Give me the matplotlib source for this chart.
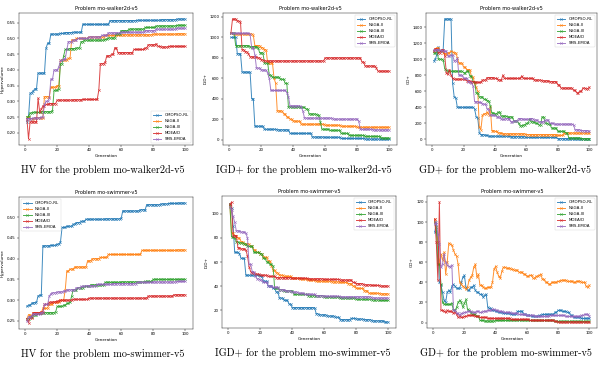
import numpy as np
import matplotlib
matplotlib.use("Agg")
import matplotlib.pyplot as plt
from matplotlib.ticker import MultipleLocator

N_GEN = 100
ALGOS = ["OMOPSO-RL", "NSGA-II", "NSGA-III", "MOEA/D", "SMS-EMOA"]
COLORS = ["#1f77b4", "#ff7f0e", "#2ca02c", "#d62728", "#9467bd"]

# (generation, value) change points; value holds until the next listed generation

# ── HV, mo-walker2d-v5 ─────────────────────────────
hv_walker_omopso = [(1, .235), (2, .25), (3, .325), (4, .328), (5, .333), (6, .34), (8, .39),
                    (13, .47), (14, .485), (16, .514), (22, .516), (25, .519), (30, .52),
                    (36, .545), (53, .557), (70, .558), (85, .56), (95, .562)]
hv_walker_nsga2 = [(1, .25), (3, .245), (6, .248), (12, .315), (16, .345), (20, .35), (22, .43),
                   (23, .432), (27, .437), (29, .495), (32, .50), (40, .505), (50, .51),
                   (60, .512), (80, .514), (95, .515)]
hv_walker_nsga3 = [(1, .25), (2, .252), (3, .263), (5, .265), (10, .267), (17, .27), (18, .335),
                   (21, .34), (22, .42), (24, .445), (25, .465), (28, .468), (32, .47), (35, .49),
                   (37, .495), (50, .497), (52, .502), (57, .515), (60, .525), (65, .53),
                   (75, .535), (82, .54), (95, .542)]
hv_walker_moead = [(1, .245), (2, .18), (3, .235), (8, .31), (9, .265), (10, .275), (11, .285),
                   (13, .29), (15, .293), (20, .304), (30, .305), (36, .306), (46, .335),
                   (47, .42), (50, .425), (51, .445), (54, .45), (56, .47), (58, .455),
                   (68, .465), (75, .47), (77, .48), (82, .483), (83, .475), (85, .473), (90, .475)]
hv_walker_sms = [(1, .245), (5, .247), (10, .25), (12, .29), (13, .30), (15, .31), (16, .37),
                 (18, .40), (21, .41), (22, .43), (24, .435), (26, .465), (27, .49), (30, .495),
                 (33, .50), (40, .505), (48, .51), (52, .518), (60, .52), (75, .525), (82, .53),
                 (95, .533)]

# ── IGD+, mo-walker2d-v5 ───────────────────────────
igd_walker_omopso = [(1, 1000), (5, 840), (8, 660), (14, 400), (16, 130), (22, 100), (30, 95),
                     (38, 60), (52, 25), (60, 22), (70, 10), (85, 5)]
igd_walker_nsga2 = [(1, 1040), (3, 1035), (15, 1020), (16, 920), (20, 900), (22, 880), (24, 750),
                    (28, 600), (29, 550), (30, 280), (34, 250), (36, 220), (38, 200), (40, 180),
                    (45, 150), (60, 140), (70, 130), (80, 120)]
igd_walker_nsga3 = [(1, 1040), (4, 920), (13, 910), (18, 900), (19, 850), (22, 750), (25, 630),
                    (27, 610), (32, 590), (35, 550), (37, 320), (45, 315), (48, 300), (50, 250),
                    (55, 240), (57, 170), (58, 100), (63, 90), (70, 60), (75, 40), (85, 30), (95, 15)]
igd_walker_moead = [(1, 1040), (2, 1180), (5, 1160), (7, 1150), (8, 880), (10, 860), (12, 840),
                    (13, 810), (18, 800), (20, 780), (22, 770), (60, 800), (83, 760), (85, 720),
                    (92, 700), (93, 670)]
igd_walker_sms = [(1, 1040), (13, 1030), (14, 900), (16, 830), (17, 700), (20, 680), (24, 650),
                  (25, 600), (26, 480), (36, 460), (37, 420), (38, 330), (45, 320), (46, 280),
                  (47, 215), (48, 210), (65, 200), (81, 180), (82, 100), (90, 95)]

# ── GD+, mo-walker2d-v5 ────────────────────────────
gd_walker_omopso = [(1, 980), (2, 1000), (3, 1060), (4, 1150), (5, 1100), (7, 1120), (8, 1500),
                    (13, 700), (14, 530), (15, 520), (16, 400), (27, 380), (28, 280), (29, 270),
                    (30, 80), (31, 60), (34, 50), (36, 40), (50, 35), (60, 25), (80, 10), (95, 5)]
gd_walker_nsga2 = [(1, 1100), (2, 1130), (3, 1140), (5, 1110), (7, 1080), (8, 1070), (10, 1080),
                   (12, 1100), (13, 1090), (14, 1080), (16, 1020), (17, 950), (20, 900), (22, 870),
                   (25, 780), (27, 700), (28, 650), (29, 600), (30, 160), (31, 120), (32, 300),
                   (33, 320), (35, 340), (36, 310), (37, 400), (38, 110), (40, 100), (42, 80),
                   (45, 70), (60, 60), (80, 50), (84, 80)]
gd_walker_nsga3 = [(1, 1080), (3, 1100), (4, 1000), (7, 990), (8, 880), (9, 860), (10, 850),
                   (20, 830), (22, 850), (24, 790), (26, 720), (28, 580), (30, 530), (33, 500),
                   (35, 480), (37, 420), (38, 330), (40, 320), (42, 340), (44, 290), (48, 280),
                   (52, 230), (55, 200), (56, 170), (58, 180), (60, 200), (62, 250), (63, 220),
                   (66, 200), (68, 180), (70, 280), (72, 200), (74, 190), (76, 140), (80, 100),
                   (85, 80), (87, 20), (95, 10)]
gd_walker_moead = [(1, 1100), (2, 1130), (4, 1080), (6, 1120), (8, 1040), (9, 830), (10, 810),
                   (11, 870), (12, 800), (13, 760), (14, 750), (22, 730), (25, 720), (28, 710),
                   (32, 740), (35, 770), (40, 760), (42, 740), (45, 800), (46, 760), (57, 790),
                   (58, 760), (65, 740), (70, 730), (75, 720), (80, 680), (82, 640), (90, 610),
                   (92, 580), (94, 600), (96, 640), (98, 630), (100, 650)]
gd_walker_sms = [(1, 1110), (3, 1120), (5, 1110), (7, 1100), (10, 1040), (12, 1050), (14, 980),
                 (16, 1010), (17, 800), (20, 760), (23, 720), (25, 700), (26, 670), (27, 470),
                 (30, 460), (32, 440), (35, 380), (37, 300), (41, 280), (44, 250), (47, 260),
                 (50, 220), (52, 230), (55, 260), (58, 250), (62, 260), (65, 240), (68, 220),
                 (72, 240), (75, 200), (78, 190), (90, 180), (91, 120), (95, 110), (100, 100)]

# ── HV, mo-swimmer-v5 ──────────────────────────────
hv_swim_omopso = [(1, .285), (2, .288), (4, .292), (5, .294), (7, .295), (8, .31), (9, .312),
                  (11, .431), (16, .432), (20, .435), (22, .44), (23, .475), (26, .478), (30, .483),
                  (32, .487), (35, .49), (38, .495), (50, .496), (60, .497), (61, .515), (72, .518),
                  (76, .53), (85, .532), (90, .533), (96, .534)]
hv_swim_nsga2 = [(1, .255), (2, .265), (4, .26), (5, .27), (11, .28), (14, .282), (15, .29),
                 (18, .295), (22, .30), (25, .325), (26, .37), (28, .375), (31, .38), (39, .395),
                 (42, .40), (47, .403), (52, .41), (60, .41), (73, .42), (95, .421)]
hv_swim_nsga3 = [(1, .255), (3, .26), (5, .265), (8, .268), (10, .27), (19, .272), (20, .285),
                 (24, .288), (26, .292), (28, .295), (29, .31), (30, .325), (33, .33), (37, .333),
                 (41, .337), (50, .343), (60, .344), (75, .345), (80, .35)]
hv_swim_moead = [(1, .255), (2, .245), (3, .258), (5, .27), (10, .272), (12, .29), (15, .295),
                 (18, .296), (20, .298), (22, .30), (30, .302), (40, .305), (77, .31), (93, .313)]
hv_swim_sms = [(1, .25), (2, .26), (4, .263), (5, .267), (10, .27), (12, .29), (15, .31),
               (16, .315), (17, .318), (20, .32), (24, .322), (26, .325), (32, .33), (35, .333),
               (38, .335), (45, .338), (55, .34), (70, .343), (80, .344), (95, .345)]

# ── IGD+, mo-swimmer-v5 ────────────────────────────
igd_swim_omopso = [(1, 108), (2, 105), (3, 90), (4, 68), (7, 67), (8, 63), (11, 49), (20, 48),
                   (22, 44), (25, 40), (28, 38), (30, 35), (32, 30), (35, 28), (38, 25), (40, 22),
                   (55, 17), (57, 16), (62, 15), (67, 14), (70, 12), (77, 13), (80, 12.5),
                   (85, 12), (90, 11), (98, 10)]
igd_swim_nsga2 = [(1, 107), (2, 84), (4, 82), (6, 80), (8, 77), (10, 75), (14, 73), (16, 70),
                  (18, 68), (20, 67), (22, 64), (25, 61), (27, 57), (28, 53), (30, 51), (32, 49),
                  (35, 48), (40, 46.5), (45, 46), (50, 45), (55, 44), (65, 43.5), (70, 43),
                  (75, 42), (78, 40), (80, 38), (85, 36), (88, 34), (95, 33.5)]
igd_swim_nsga3 = [(1, 108), (2, 81), (4, 80), (5, 77), (7, 76), (10, 75), (12, 73), (16, 68),
                  (20, 67), (22, 63), (24, 60), (26, 58), (28, 57), (29, 38), (32, 37), (35, 36),
                  (41, 33), (50, 32), (60, 31), (70, 30), (80, 29), (90, 28.5), (95, 28)]
igd_swim_moead = [(1, 108), (2, 110), (3, 82), (6, 72), (8, 71), (11, 70), (12, 65), (13, 56),
                  (14, 52), (15, 51), (17, 50), (20, 49), (25, 48), (30, 47), (40, 46.5), (50, 46),
                  (60, 45.5), (70, 45), (78, 43), (80, 42), (85, 41), (90, 40.5), (95, 40)]
igd_swim_sms = [(1, 106), (2, 103), (3, 98), (4, 93), (5, 86), (8, 85), (11, 84), (12, 80),
                (13, 58), (15, 52), (17, 48), (18, 46), (20, 45), (22, 43), (25, 40), (28, 39),
                (32, 37), (36, 36), (40, 35), (44, 34), (48, 33), (55, 32), (60, 31.5), (70, 31),
                (90, 30)]

# ── GD+, mo-swimmer-v5 ─────────────────────────────
gd_swim_omopso = [(1, 90), (2, 98), (3, 80), (4, 40), (5, 37), (6, 30), (7, 22), (8, 20), (9, 30),
                  (10, 32), (11, 30), (12, 36), (13, 38), (14, 36), (15, 34), (18, 40), (19, 45),
                  (20, 47), (21, 35), (22, 32), (24, 35), (26, 37), (27, 32), (28, 30), (30, 28),
                  (32, 25), (33, 27), (34, 28), (35, 15), (36, 14), (38, 12), (40, 11), (42, 10),
                  (45, 9), (50, 8), (54, 11), (58, 8), (60, 7), (63, 6), (68, 7), (70, 8),
                  (78, 10), (80, 12), (83, 11), (86, 10), (88, 7), (90, 5), (95, 4)]
gd_swim_nsga2 = [(1, 103), (2, 95), (3, 80), (4, 58), (5, 68), (6, 62), (7, 70), (8, 48), (9, 60),
                 (10, 79), (11, 78), (12, 77), (13, 72), (14, 68), (15, 66), (16, 58), (17, 40),
                 (18, 38), (19, 36), (20, 35), (21, 33), (22, 35), (23, 42), (24, 45), (25, 47),
                 (26, 55), (27, 58), (28, 45), (29, 48), (30, 37), (32, 35), (33, 34), (35, 35),
                 (38, 40), (39, 53), (40, 56), (41, 50), (42, 46), (43, 44), (44, 51), (45, 55),
                 (47, 54), (50, 53), (52, 52), (55, 50), (58, 48), (60, 46), (62, 47), (64, 44),
                 (66, 46), (68, 47), (69, 48), (70, 43), (72, 40), (74, 38), (76, 40), (80, 41),
                 (82, 42), (86, 41), (90, 40), (92, 41), (95, 40), (98, 36), (99, 35), (100, 37)]
gd_swim_nsga3 = [(1, 100), (2, 95), (3, 58), (5, 38), (6, 20), (7, 18), (12, 19), (13, 12),
                 (15, 15), (16, 20), (17, 22), (18, 20), (19, 15), (20, 19), (21, 23), (22, 13),
                 (23, 12), (24, 10), (25, 8), (28, 6), (30, 2), (33, 1.5), (40, 2), (78, 1)]
gd_swim_moead = [(1, 103), (2, 80), (3, 42), (4, 120), (5, 12), (7, 11), (8, 10), (9, 12),
                 (10, 11), (13, 9), (14, 10), (15, 8), (16, 5), (17, 6), (18, 5), (20, 6), (22, 7),
                 (27, 6), (30, 5), (35, 4), (50, 3), (62, 2), (78, 1), (80, 0.5)]
gd_swim_sms = [(1, 98), (2, 100), (3, 88), (4, 78), (5, 55), (6, 58), (7, 68), (8, 60), (9, 57),
               (10, 56), (11, 55), (12, 57), (13, 12), (15, 9), (17, 7), (18, 9), (20, 10),
               (22, 11), (25, 10), (28, 11), (30, 10), (32, 11), (35, 12), (38, 13), (40, 12),
               (42, 11), (45, 10), (50, 9), (55, 8), (60, 7), (65, 6), (75, 7), (85, 6), (95, 7),
               (97, 8), (100, 6)]


def hold(points):
    gens = [g for g, _ in points] + [N_GEN + 1]
    vals = [v for _, v in points]
    return np.repeat(vals, np.diff(gens))


# (title, ylabel, series, y tick step, legend loc, caption, axes rect px (l, t, r, b), caption centre x)
panels = [
    ("Problem mo-walker2d-v5", "Hypervolume",
     [hv_walker_omopso, hv_walker_nsga2, hv_walker_nsga3, hv_walker_moead, hv_walker_sms],
     0.05, "lower right", "HV for the problem mo-walker2d-v5", (19, 13, 193, 145), 103),
    ("Problem mo-walker2d-v5", "IGD+",
     [igd_walker_omopso, igd_walker_nsga2, igd_walker_nsga3, igd_walker_moead, igd_walker_sms],
     200, "upper right", "IGD+ for the problem mo-walker2d-v5", (223, 13, 397, 145), 304),
    ("Problem mo-walker2d-v5", "GD+",
     [gd_walker_omopso, gd_walker_nsga2, gd_walker_nsga3, gd_walker_moead, gd_walker_sms],
     200, "upper right", "GD+ for the problem mo-walker2d-v5", (426, 13, 597, 145), 505),
    ("Problem mo-swimmer-v5", "Hypervolume",
     [hv_swim_omopso, hv_swim_nsga2, hv_swim_nsga3, hv_swim_moead, hv_swim_sms],
     0.05, "upper left", "HV for the problem mo-swimmer-v5", (19, 197, 193, 329), 103),
    ("Problem mo-swimmer-v5", "IGD+",
     [igd_swim_omopso, igd_swim_nsga2, igd_swim_nsga3, igd_swim_moead, igd_swim_sms],
     20, "upper right", "IGD+ for the problem mo-swimmer-v5", (222, 196, 396, 328), 303),
    ("Problem mo-swimmer-v5", "GD+",
     [gd_swim_omopso, gd_swim_nsga2, gd_swim_nsga3, gd_swim_moead, gd_swim_sms],
     20, "upper right", "GD+ for the problem mo-swimmer-v5", (427, 196, 597, 328), 506),
]

W, H = 598, 365
fig = plt.figure(figsize=(W / 100, H / 100), dpi=100)
gens = np.arange(1, N_GEN + 1)

for title, ylabel, series, ystep, loc, caption, (l, t, r, b), cx in panels:
    ax = fig.add_axes([l / W, 1 - b / H, (r - l) / W, (b - t) / H])
    for pts, name, col in zip(series, ALGOS, COLORS):
        ax.plot(gens, hold(pts), "-x", color=col, label=name, lw=0.7,
                ms=1.8, mew=0.4, alpha=0.85)
    ax.set_title(title, fontsize=3.6, pad=2)
    ax.set_xlabel("Generation", fontsize=3.0, labelpad=1.5)
    ax.set_ylabel(ylabel, fontsize=3.0, labelpad=1.5)
    ax.xaxis.set_major_locator(MultipleLocator(20))
    ax.yaxis.set_major_locator(MultipleLocator(ystep))
    ax.tick_params(labelsize=2.9, length=1.2, width=0.3, pad=1.2)
    for s in ax.spines.values():
        s.set_linewidth(0.3)
    leg = ax.legend(loc=loc, fontsize=2.9, handlelength=2.2, borderpad=0.5,
                    labelspacing=0.5, framealpha=0.8)
    leg.get_frame().set_linewidth(0.3)
    cy = b + 25
    fig.text(cx / W, 1 - cy / H, caption, ha="center", va="center",
             fontsize=7.4, family="cmr10")

fig.savefig("out.png", dpi=100)
